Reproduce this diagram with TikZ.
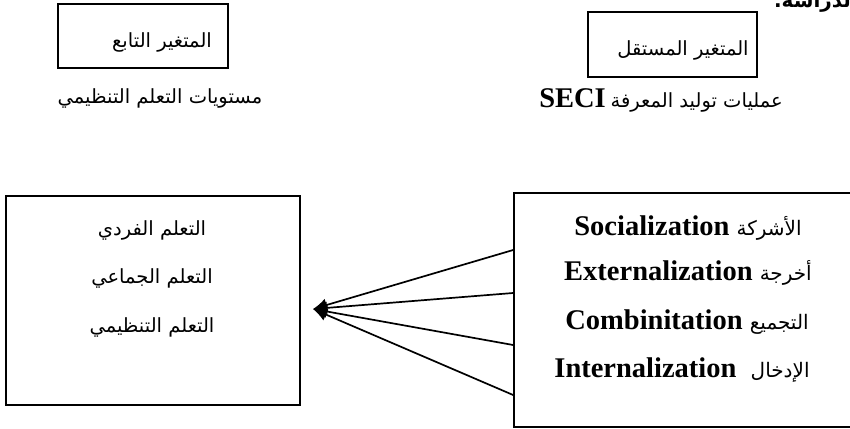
\documentclass[tikz,border=0pt]{standalone}
\usepackage{fontspec}
\setmainfont{Liberation Serif}
\newfontfamily\arabicfont[Script=Arabic]{DejaVu Sans}
\TeXXeTstate=1
\usetikzlibrary{arrows.meta}
\newcommand{\artxt}[1]{{\arabicfont\beginR #1\endR}}
\newcommand{\arsize}{\mdseries\fontsize{20}{23}\selectfont}
\tikzset{
  box/.style={draw=black, line width=1.7pt, inner sep=0pt},
  artext/.style={font=\fontsize{19.5}{22}\selectfont, inner sep=0pt},
  entext/.style={font=\fontsize{28.5}{31}\selectfont\bfseries, inner sep=0pt}
}

\begin{document}
\begin{tikzpicture}[x=1pt,y=-1pt]
            \useasboundingbox (0,0) rectangle (850,428);
            % top row
            \node[box, minimum width=170pt, minimum height=64pt] (A) at (143,36){};
            \node[artext] (B) at (162,42){\artxt{المتغير التابع}};
            \node[artext] (C) at (160,98){\artxt{مستويات التعلم التنظيمي}};
            \node[box, minimum width=169pt, minimum height=65pt] (D) at (672.5,44.5){};
            \node[artext] (E) at (683,50){\artxt{المتغير المستقل}};
            \node[artext] (F) at (661,100){\textbf{\fontsize{28.5}{31}\selectfont SECI} \artxt{عمليات توليد المعرفة}};
            \node[artext, font=\fontsize{20}{23}\selectfont\bfseries, anchor=base east] (G) at (858,8){\artxt{الدراسة.}};
            % bottom row
            \node[box, minimum width=293.5pt, minimum height=209pt] (H) at (153,300.5){};
            \node[artext] (I) at (152,230){\artxt{التعلم الفردي}};
            \node[artext] (J) at (152,278){\artxt{التعلم الجماعي}};
            \node[artext] (K) at (152,327){\artxt{التعلم التنظيمي}};
            \node[box, minimum width=356pt, minimum height=234pt] (L) at (692,310){};
            \node[entext] (M) at (688,228){Socialization \artxt{\arsize الأشركة}};
            \node[entext] (N) at (688,273){Externalization \artxt{\arsize أخرجة}};
            \node[entext] (O) at (687,322){Combinitation \artxt{\arsize التجميع}};
            \node[entext] (P) at (682,370){Internalization\ \ \artxt{\arsize الإدخال}};
            \coordinate (T) at (313,309);
            \draw [-{Latex[length=14pt,width=13pt]}, line width=1.7pt]([yshift=60pt]L.west) -- (T);
            \draw [-{Latex[length=14pt,width=13pt]}, line width=1.7pt]([yshift=17pt]L.west) -- (T);
            \draw [-{Latex[length=14pt,width=13pt]}, line width=1.7pt]([yshift=-35pt]L.west) -- (T);
            \draw [-{Latex[length=14pt,width=13pt]}, line width=1.7pt]([yshift=-85pt]L.west) -- (T);
		\end{tikzpicture}
\end{document}
